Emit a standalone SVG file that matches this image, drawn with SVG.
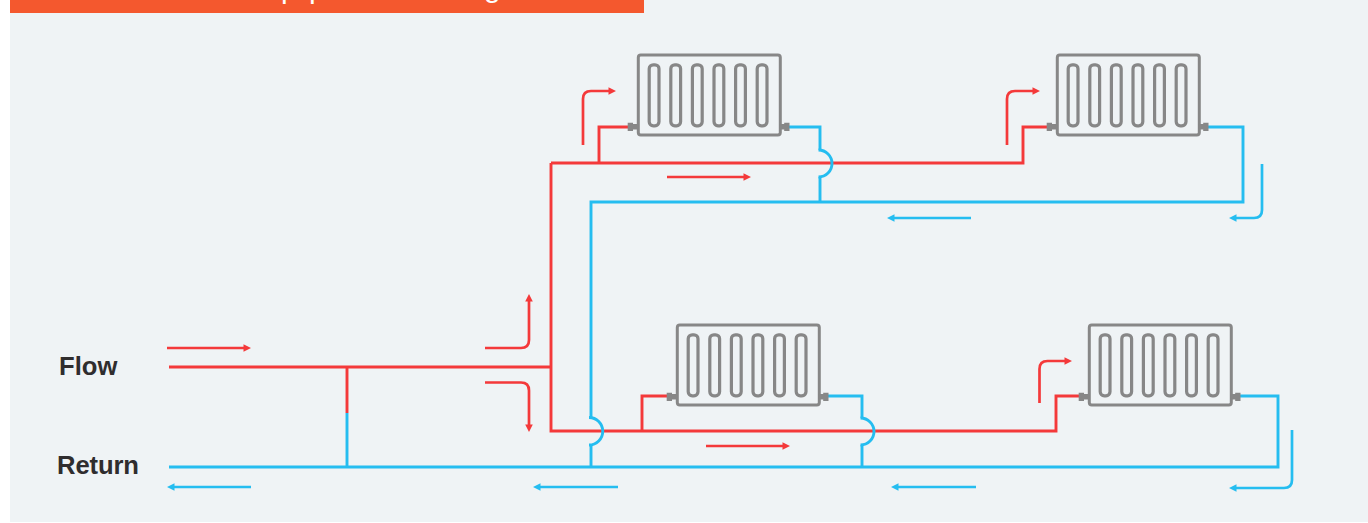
<svg xmlns="http://www.w3.org/2000/svg" width="1368" height="523" viewBox="0 0 1368 523">
<style>
.r{fill:none;stroke:#f4393a;stroke-width:2.9}
.b{fill:none;stroke:#25bdf0;stroke-width:2.9}
.ar{fill:none;stroke:#f4393a;stroke-width:2.7}
.ab{fill:none;stroke:#25bdf0;stroke-width:2.7}
.hr{fill:#f4393a}.hb{fill:#25bdf0}
.shell{fill:none;stroke:#878787;stroke-width:3}
.fin{fill:none;stroke:#878787;stroke-width:3.2}
.valve{fill:#878787}
.lbl{font-family:"Liberation Sans",Arial,sans-serif;font-weight:700;font-size:25.6px;fill:#2f2d2e}
.ttl{font-family:"Liberation Sans",Arial,sans-serif;font-size:30px;fill:#fff}
</style>
<defs>
<g id="rad">
<rect class="shell" x="1.300" y="1" width="142" height="80" rx="2.5"/>
<rect class="fin" x="12.200" y="10.800" width="9.800" height="61" rx="4"/>
<rect class="fin" x="33.800" y="10.800" width="9.800" height="61" rx="4"/>
<rect class="fin" x="55.400" y="10.800" width="9.800" height="61" rx="4"/>
<rect class="fin" x="77" y="10.800" width="9.800" height="61" rx="4"/>
<rect class="fin" x="98.600" y="10.800" width="9.800" height="61" rx="4"/>
<rect class="fin" x="120.200" y="10.800" width="9.800" height="61" rx="4"/>
<path class="valve" d="M-9.300 68.700h5.300v1.300h5v5.500h-5v1.500h-5.300zM152.500 68.700h-5.300v1.300h-5v5.500h5v1.500h5.300z"/>
</g>
</defs>
<rect x="10" y="0" width="1358" height="522" fill="#eff3f5"/>
<rect x="10" y="0" width="634" height="13" fill="#f4582e"/>
<g id="title-fragments"><text class="ttl" x="281" y="-2">p</text><text class="ttl" x="309" y="-2">p</text><text class="ttl" x="484" y="-3">g</text></g>
<g id="connectors">
<path class="r" d="M169 367H551M347 367V413"/>
<path class="b" d="M347 413V467M169 467H1278V396H1238"/>
<path class="r" d="M551 163V431H1056V396H1080"/>
<path class="r" d="M551 163H1023V127H1048M599 163V127H629"/>
<path class="r" d="M642 431V396H668"/>
<path class="b" d="M1205 127H1243V202H591V417M591 445V467"/>
<path class="b" d="M589 417.500A13.700 13.700 0 0 1 589 445"/>
<path class="b" d="M788 127H820V150M820 177V202"/>
<path class="b" d="M818.500 150A13.500 13.500 0 0 1 818.500 177"/>
<path class="b" d="M827 396H862V418M862 445V467"/>
<path class="b" d="M860.500 418A13.500 13.500 0 0 1 860.500 445"/>
<g id="flow-arrows">
<path class="ar" d="M167 348H245M667 177H745M706 446H784M485 348H521Q529 348 529 340V300M485 382.500H521Q529 382.500 529 390.500V426M583 145V99Q583 91 591 91H610M1007 145V99Q1007 91 1015 91H1034M1039.500 403V369Q1039.500 361 1047.500 361H1066"/>
<path class="hr" d="M251 348l-7.500-3.800v7.600zM751 177l-7.500-3.800v7.600zM790 446l-7.500-3.800v7.600zM529 294l-3.800 7.500h7.600zM529 432l-3.800-7.500h7.600zM616 91l-7.500-3.800v7.600zM1040 91l-7.500-3.800v7.600zM1072 361l-7.500-3.800v7.600z"/>
<path class="ab" d="M173 487H251M539 487H618M897 487H976M893 218H971M1262 164V210Q1262 218 1254 218H1236M1292 430V480Q1292 488 1284 488H1236"/>
<path class="hb" d="M167 487l7.500-3.800v7.600zM533 487l7.500-3.800v7.600zM891 487l7.500-3.800v7.600zM887 218l7.500-3.800v7.600zM1229 218l7.500-3.800v7.600zM1229 488l7.500-3.800v7.600z"/>
</g>
</g>
<g id="rad-top-left"><use href="#rad" x="637" y="54"/></g>
<g id="rad-top-right"><use href="#rad" x="1056" y="54"/></g>
<g id="rad-bottom-left"><use href="#rad" x="676" y="324"/></g>
<g id="rad-bottom-right"><use href="#rad" x="1088" y="324"/></g>
<g id="label-flow"><text class="lbl" x="59" y="375">Flow</text></g>
<g id="label-return"><text class="lbl" x="57" y="473.500" textLength="82">Return</text></g>
</svg>
